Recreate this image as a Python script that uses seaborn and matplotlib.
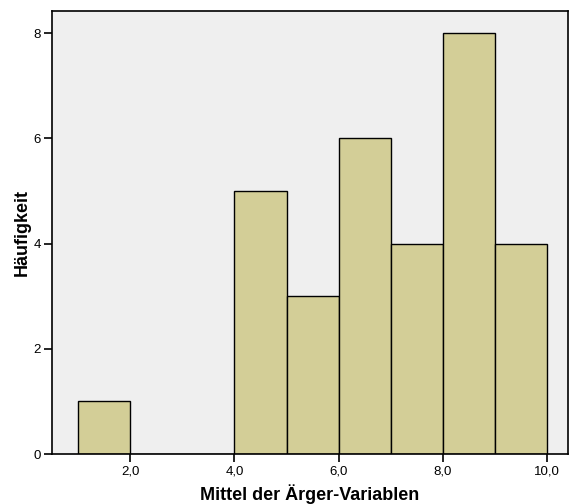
import matplotlib
matplotlib.use("Agg")
import matplotlib.pyplot as plt
import seaborn as sns
import numpy as np

# Histogram of the mean anger score (bin width 1.0)
bin_edges = [1, 2, 3, 4, 5, 6, 7, 8, 9, 10]
bin_counts = [1, 0, 0, 5, 3, 6, 4, 8, 4]
x_ticks = [2, 4, 6, 8, 10]
x_tick_labels = ["2,0", "4,0", "6,0", "8,0", "10,0"]
y_ticks = [0, 2, 4, 6, 8]

sns.set_style("white")
plt.rcParams["font.family"] = ["Liberation Sans", "DejaVu Sans"]
plt.rcParams["text.color"] = "black"
plt.rcParams["axes.labelcolor"] = "black"
plt.rcParams["xtick.color"] = "black"
plt.rcParams["ytick.color"] = "black"

fig = plt.figure(figsize=(5.69, 5.04), dpi=100)
ax = fig.add_axes([0.0914, 0.0992, 0.907, 0.879])
ax.set_facecolor("#EFEFEF")

centers = [(a + b) / 2 for a, b in zip(bin_edges[:-1], bin_edges[1:])]
sns.histplot(x=centers, weights=bin_counts, bins=bin_edges, ax=ax,
             color="#D3CE97", alpha=1.0, edgecolor="black", linewidth=1.0)

ax.set_xlim(0.5, 10.4)
ax.set_ylim(0, 8.42)
ax.set_xticks(x_ticks)
ax.set_xticklabels(x_tick_labels)
ax.set_yticks(y_ticks)
ax.tick_params(axis="both", direction="out", length=6, width=1.2,
               labelsize=9.5, colors="black", pad=2, left=True, bottom=True)

for side in ["left", "bottom", "top", "right"]:
    ax.spines[side].set_color("black")
    ax.spines[side].set_linewidth(1.2)

ax.set_xlabel("Mittel der Ärger-Variablen", fontsize=13, fontweight="bold",
              color="black", labelpad=5)
ax.set_ylabel("Häufigkeit", fontsize=13, fontweight="bold",
              color="black", labelpad=2)

fig.savefig("out.png", dpi=100)
